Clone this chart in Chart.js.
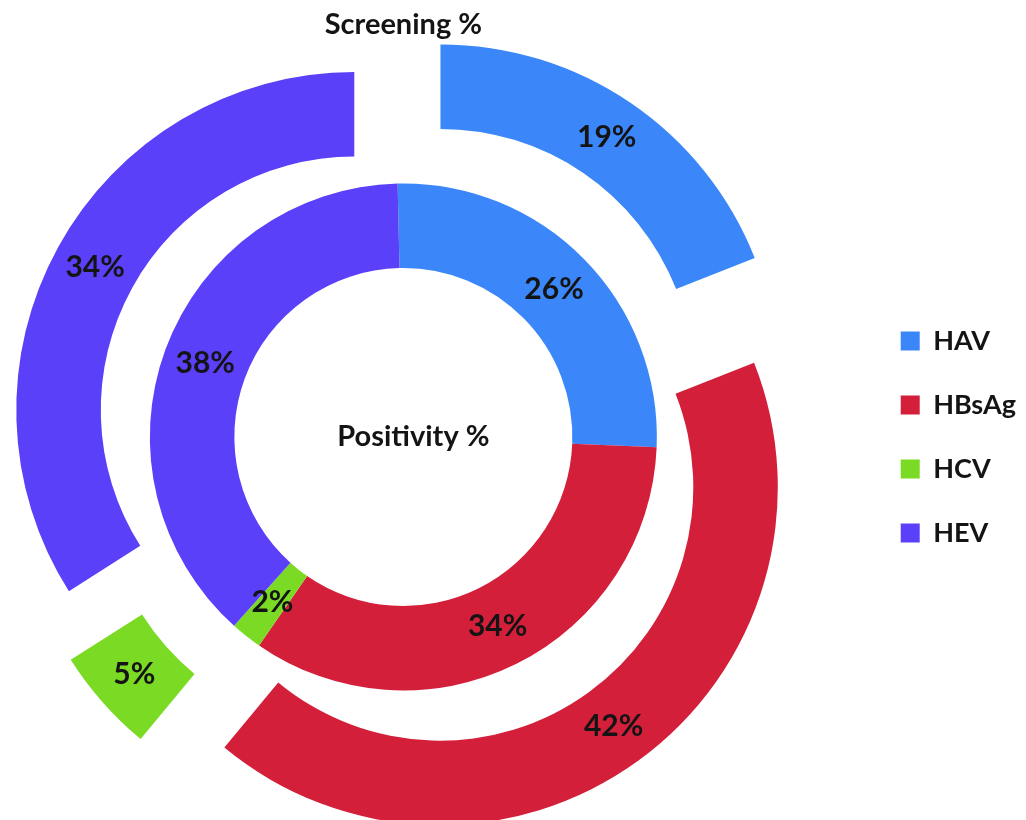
<!DOCTYPE html>
<html>
<head>
<meta charset="utf-8">
<script src="https://cdn.jsdelivr.net/npm/chart.js@4.4.1/dist/chart.umd.min.js"></script>
<style>
  html, body { margin: 0; padding: 0; background: #fff; overflow: hidden; }
  /* canvas reaches past the left edge so the rings sit left of centre, legend stays at the right edge */
  #chart { display: block; margin-left: -57px; }
</style>
</head>
<body>
<canvas id="chart" width="1083" height="820"></canvas>
<script>
const categories = ["HAV", "HBsAg", "HCV", "HEV"]
const screening = [19, 42, 5, 34]
const positivity = [26, 34, 2, 38]

const colors = ["#3B87FA", "#D41F3A", "#7BDB24", "#5B40FA"]
const textColor = "#141414"
const fontFamily = "Lato, 'Open Sans', sans-serif"

// how far each outer slice is pulled away from the centre (px)
const pullOut = [66, 62, 63, 56]

const explodeOuter = {
  id: "explodeOuter",
  beforeDatasetDraw(chart, args) {
    if (args.index !== 0) return
    const ctx = chart.ctx
    args.meta.data.forEach((arc, i) => {
      const mid = (arc.startAngle + arc.endAngle) / 2
      ctx.save()
      ctx.translate(Math.cos(mid) * pullOut[i], Math.sin(mid) * pullOut[i])
      arc.draw(ctx)
      ctx.restore()
    })
    return false
  }
}

const sliceLabels = {
  id: "sliceLabels",
  afterDatasetsDraw(chart) {
    const ctx = chart.ctx
    ctx.save()
    ctx.fillStyle = textColor
    ctx.textAlign = "center"
    ctx.textBaseline = "middle"
    ctx.font = `bold 30px ${fontFamily}`
    chart.data.datasets.forEach((ds, d) => {
      chart.getDatasetMeta(d).data.forEach((arc, i) => {
        const mid = (arc.startAngle + arc.endAngle) / 2
        const r = (arc.innerRadius + arc.outerRadius) / 2 + (d === 0 ? pullOut[i] : 0)
        ctx.fillText(ds.data[i] + "%", arc.x + Math.cos(mid) * r, arc.y + Math.sin(mid) * r)
      })
    })
    ctx.font = `bold 29px ${fontFamily}`
    const centre = chart.getDatasetMeta(1).data[0]
    ctx.fillText(chart.data.datasets[1].label, centre.x + 10, centre.y)
    ctx.restore()
  }
}

new Chart(document.getElementById("chart"), {
  type: "doughnut",
  data: {
    labels: categories,
    datasets: [
      { label: "Screening %", data: screening, backgroundColor: colors, rotation: 0 },
      { label: "Positivity %", data: positivity, backgroundColor: colors, rotation: -1.3 }
    ]
  },
  options: {
    responsive: false,
    animation: false,
    radius: 338,
    cutout: "50%",
    elements: { arc: { borderWidth: 0, hoverOffset: 0 } },
    layout: { padding: 0 },
    plugins: {
      tooltip: { enabled: false },
      title: {
        display: true,
        text: "Screening %",
        color: textColor,
        fullSize: false,
        font: { family: fontFamily, size: 29, weight: "bold" },
        padding: { top: 7, bottom: 12.2 }
      },
      legend: {
        position: "right",
        fullSize: false,
        labels: {
          color: textColor,
          boxWidth: 19,
          boxHeight: 19,
          padding: 37,
          font: { family: fontFamily, size: 27, weight: "bold" }
        }
      }
    }
  },
  plugins: [explodeOuter, sliceLabels]
})
</script>
</body>
</html>
